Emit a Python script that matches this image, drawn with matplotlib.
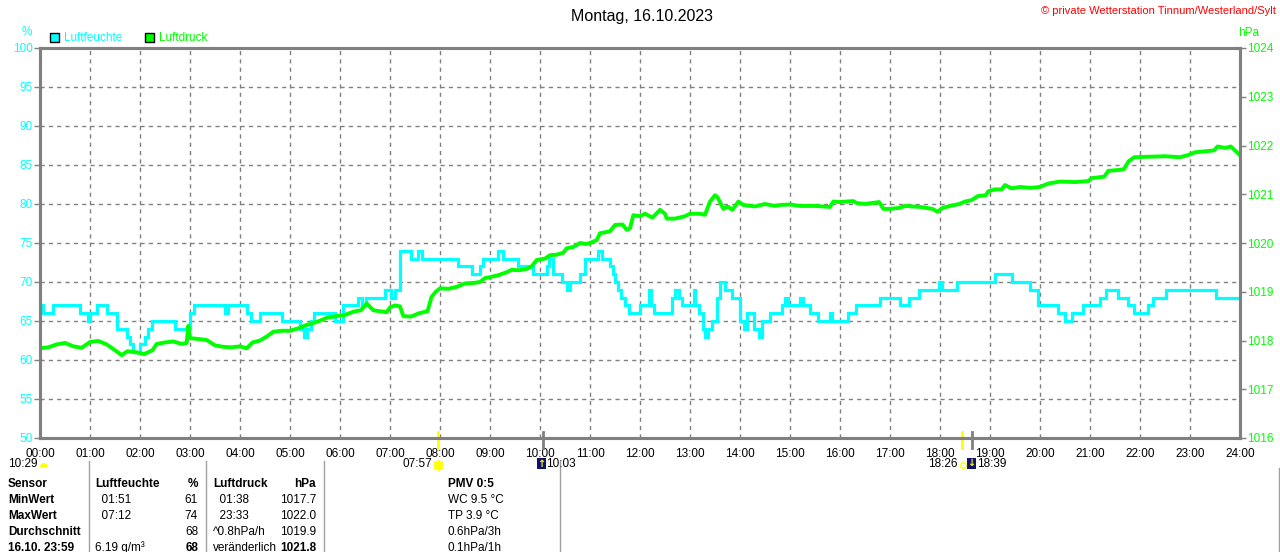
import matplotlib
matplotlib.use("Agg")
import matplotlib.pyplot as plt
from matplotlib.patches import Rectangle, Wedge

plt.rcParams['font.family'] = ['Liberation Sans Narrow', 'Liberation Sans', 'DejaVu Sans']

# Humidity (step changes): time in hours, value in %
hum_hours = [0.00, 0.06, 0.26, 0.80, 0.96, 1.00, 1.14, 1.34, 1.54, 1.74,
             1.80, 1.86, 2.00, 2.10, 2.16, 2.24, 2.70, 3.00, 3.08, 3.70,
             3.76, 4.14, 4.22, 4.40, 4.84, 5.20, 5.28, 5.34, 5.42, 5.48,
             5.90, 6.06, 6.36, 6.44, 6.52, 6.90, 7.02, 7.10, 7.20, 7.42,
             7.56, 7.64, 8.36, 8.64, 8.80, 8.86, 9.16, 9.26, 9.56, 9.86,
             10.14, 10.18, 10.26, 10.44, 10.54, 10.60, 10.80, 10.90, 11.16, 11.24,
             11.40, 11.46, 11.50, 11.56, 11.62, 11.70, 11.77, 12.00, 12.17, 12.22,
             12.27, 12.63, 12.70, 12.78, 12.83, 13.07, 13.10, 13.17, 13.25, 13.30,
             13.36, 13.43, 13.53, 13.60, 13.70, 13.83, 14.00, 14.07, 14.13, 14.27,
             14.37, 14.43, 14.60, 14.83, 14.90, 14.95, 15.20, 15.25, 15.40, 15.56,
             15.80, 15.84, 16.16, 16.32, 16.79, 17.19, 17.38, 17.58, 17.98, 18.04,
             18.34, 19.10, 19.44, 19.80, 19.96, 20.36, 20.50, 20.63, 20.86, 21.20,
             21.32, 21.56, 21.76, 21.88, 22.16, 22.26, 22.52, 23.51, 24.00]
hum_vals = [67, 66, 67, 66, 65, 66, 67, 66, 64, 63,
            62, 61, 62, 63, 64, 65, 64, 66, 67, 66,
            67, 66, 65, 66, 65, 64, 63, 64, 65, 66,
            65, 67, 68, 67, 68, 69, 68, 69, 74, 73,
            74, 73, 72, 71, 72, 73, 74, 73, 72, 71,
            72, 73, 71, 70, 69, 70, 71, 73, 74, 73,
            72, 71, 70, 69, 68, 67, 66, 67, 69, 67,
            66, 68, 69, 68, 67, 69, 67, 66, 64, 63,
            64, 65, 68, 70, 69, 68, 65, 64, 66, 64,
            63, 65, 66, 67, 68, 67, 68, 67, 66, 65,
            66, 65, 66, 67, 68, 67, 68, 69, 70, 69,
            70, 71, 70, 69, 67, 66, 65, 66, 67, 68,
            69, 68, 67, 66, 67, 68, 69, 68, 68]

# Air pressure: time in minutes, value in hPa
press_min = [0, 10, 20, 30, 40, 50, 60, 70, 80, 90,
             98, 105, 115, 125, 135, 140, 150, 160, 170, 176,
             178, 180, 190, 200, 210, 220, 230, 240, 248, 255,
             264, 272, 280, 290, 300, 310, 320, 328, 335, 345,
             355, 365, 376, 385, 392, 400, 408, 416, 420, 426,
             432, 436, 445, 455, 465, 470, 475, 480, 490, 500,
             510, 520, 528, 534, 540, 550, 560, 566, 575, 584,
             590, 596, 606, 612, 620, 628, 632, 640, 648, 655,
             660, 668, 672, 684, 690, 699, 704, 708, 712, 720,
             726, 735, 744, 750, 752, 762, 774, 780, 792, 798,
             804, 810, 813, 820, 825, 831, 838, 844, 858, 870,
             882, 888, 900, 912, 930, 948, 952, 960, 976, 980,
             990, 1007, 1012, 1020, 1031, 1038, 1056, 1071, 1077, 1083,
             1092, 1103, 1110, 1118, 1125, 1135, 1138, 1146, 1154, 1158,
             1166, 1176, 1188, 1200, 1210, 1224, 1242, 1258, 1262, 1277,
             1282, 1296, 1301, 1306, 1313, 1332, 1350, 1368, 1377, 1386,
             1398, 1409, 1413, 1422, 1429, 1434, 1440]
press_hpa = [1017.84, 1017.86, 1017.92, 1017.95, 1017.88, 1017.85, 1017.97, 1017.99, 1017.92, 1017.80,
             1017.70, 1017.78, 1017.76, 1017.72, 1017.80, 1017.93, 1017.96, 1017.98, 1017.93, 1017.95,
             1018.30, 1018.05, 1018.03, 1018.01, 1017.90, 1017.87, 1017.86, 1017.88, 1017.84, 1017.96,
             1018.00, 1018.08, 1018.18, 1018.20, 1018.20, 1018.25, 1018.32, 1018.36, 1018.40, 1018.47,
             1018.50, 1018.52, 1018.59, 1018.62, 1018.76, 1018.62, 1018.60, 1018.58, 1018.68, 1018.72,
             1018.70, 1018.50, 1018.49, 1018.56, 1018.60, 1018.90, 1019.00, 1019.07, 1019.06, 1019.10,
             1019.17, 1019.18, 1019.20, 1019.28, 1019.30, 1019.34, 1019.40, 1019.45, 1019.44, 1019.47,
             1019.52, 1019.65, 1019.68, 1019.75, 1019.76, 1019.80, 1019.89, 1019.92, 1020.00, 1019.98,
             1020.00, 1020.06, 1020.20, 1020.24, 1020.37, 1020.38, 1020.27, 1020.30, 1020.57, 1020.55,
             1020.60, 1020.52, 1020.68, 1020.60, 1020.50, 1020.50, 1020.55, 1020.60, 1020.60, 1020.58,
             1020.85, 1020.98, 1020.94, 1020.70, 1020.75, 1020.68, 1020.85, 1020.78, 1020.75, 1020.80,
             1020.76, 1020.78, 1020.79, 1020.76, 1020.76, 1020.74, 1020.85, 1020.84, 1020.86, 1020.82,
             1020.80, 1020.84, 1020.70, 1020.70, 1020.72, 1020.76, 1020.74, 1020.70, 1020.64, 1020.72,
             1020.76, 1020.80, 1020.85, 1020.88, 1020.96, 1020.98, 1021.06, 1021.10, 1021.10, 1021.19,
             1021.12, 1021.15, 1021.13, 1021.15, 1021.22, 1021.26, 1021.25, 1021.27, 1021.33, 1021.36,
             1021.48, 1021.50, 1021.52, 1021.67, 1021.76, 1021.77, 1021.78, 1021.76, 1021.80, 1021.86,
             1021.88, 1021.90, 1021.98, 1021.95, 1021.98, 1021.90, 1021.80]

x_labels = [f"{h:02d}:00" for h in range(25)]
hum_ticks = list(range(50, 101, 5))
press_ticks = list(range(1016, 1025))

# sun / moon events (hours)
sun_events = [7 + 57 / 60, 18 + 26 / 60]
moon_events = [10 + 3 / 60, 18 + 39 / 60]

CYAN = '#00ffff'
GREEN = '#00ff00'
GRAY = '#808080'

W, H = 1280, 552
fig = plt.figure(figsize=(W / 100, H / 100), dpi=100)
ax = fig.add_axes([40 / W, 1 - 438 / H, 1200 / W, 390 / H])
ax2 = ax.twinx()

ax.set_xlim(0, 24)
ax.set_ylim(50, 100)
ax2.set_ylim(1016, 1024)

ax.step(hum_hours, hum_vals, where='post', color=CYAN, lw=2.3, solid_joinstyle='miter')
ax2.plot([m / 60 for m in press_min], press_hpa, color=GREEN, lw=2.8)

ax.set_xticks(range(25))
ax.set_xticklabels(x_labels)
ax.set_yticks(hum_ticks)
ax2.set_yticks(press_ticks)
ax.grid(True, color=GRAY, linestyle=(0, (3, 3)), linewidth=1)

for a in (ax, ax2):
    for s in a.spines.values():
        s.set_color(GRAY)
        s.set_linewidth(2.2)

ax.tick_params(axis='x', length=0, pad=7, labelsize=8.5, labelcolor='black')
ax.tick_params(axis='y', length=4, width=1, color=GRAY, pad=1, labelsize=8.5, labelcolor=CYAN)
ax2.tick_params(axis='y', length=4, width=1, color=GRAY, pad=1, labelsize=8.5, labelcolor=GREEN)

# sun / moon markers on the time axis
xt = ax.get_xaxis_transform()
for t in sun_events:
    ax.plot([t, t], [-0.025, 0.016], transform=xt, color='#ffff00', lw=2, clip_on=False, zorder=5)
for t in moon_events:
    ax.plot([t, t], [-0.025, 0.016], transform=xt, color=GRAY, lw=2, clip_on=False, zorder=5)

# overlay in pixel coordinates for header, legend and table
ov = fig.add_axes([0, 0, 1, 1], zorder=10)
ov.set_xlim(0, W)
ov.set_ylim(H, 0)
ov.axis('off')

fs = 8.5
ov.text(642, 16, 'Montag, 16.10.2023', ha='center', va='center', fontsize=11.5)
ov.text(1276, 11, '\u00a9 private Wetterstation Tinnum/Westerland/Sylt', ha='right', va='center',
        fontsize=8, color='red')
ov.text(27, 32, '%', ha='center', va='center', fontsize=fs, color=CYAN)
ov.text(1249, 33, 'hPa', ha='center', va='center', fontsize=fs, color=GREEN)

ov.add_patch(Rectangle((50, 33), 9, 9, facecolor=CYAN, edgecolor='black', lw=1))
ov.text(64, 38, 'Luftfeuchte', va='center', fontsize=fs, color=CYAN)
ov.add_patch(Rectangle((145, 33), 9, 9, facecolor=GREEN, edgecolor='black', lw=1))
ov.text(159, 38, 'Luftdruck', va='center', fontsize=fs, color=GREEN)

# sun / moon times row
ov.text(38, 464, '10:29', ha='right', va='center', fontsize=fs)
ov.add_patch(Wedge((44, 467), 4, 180, 360, facecolor='#ffff00', edgecolor='none'))
ov.text(432, 464, '07:57', ha='right', va='center', fontsize=fs)
ov.plot([438], [465], marker=(8, 2, 0), ms=8, color='#ffff00', mew=1)
ov.plot([438], [465], marker='o', ms=5, color='#ffff00', mec='#ffff00')
ov.add_patch(Rectangle((537, 458), 9, 11, facecolor='#101070', edgecolor='none'))
ov.text(541.5, 464, '\u2191', ha='center', va='center', fontsize=7, color='#ffff00',
        family='DejaVu Sans', fontweight='bold')
ov.text(546, 464, '10:03', ha='left', va='center', fontsize=fs)
ov.text(958, 464, '18:26', ha='right', va='center', fontsize=fs)
ov.plot([963], [465], marker='o', ms=4, mfc='none', mec='#ffff00', mew=1)
ov.add_patch(Rectangle((967, 458), 9, 11, facecolor='#101070', edgecolor='none'))
ov.text(971.5, 463, '\u2193', ha='center', va='center', fontsize=7, color='#ffff00',
        family='DejaVu Sans', fontweight='bold')
ov.text(977, 464, '18:39', ha='left', va='center', fontsize=fs)

# table
rows_y = [484, 500, 516, 532, 548]
col0 = ['Sensor', 'MinWert', 'MaxWert', 'Durchschnitt', '16.10. 23:59']
col1 = ['Luftfeuchte', '  01:51', '  07:12', '', '6.19 g/m\u00b3']
col2 = ['%', '61', '74', '68', '68']
col3 = ['Luftdruck', '  01:38', '  23:33', '^0.8hPa/h', 'ver\u00e4nderlich']
col4 = ['hPa', '1017.7', '1022.0', '1019.9', '1021.8']
col5 = ['PMV 0:5', 'WC 9.5 \u00b0C', 'TP 3.9 \u00b0C', '0.6hPa/3h', '0.1hPa/1h']

for i, y in enumerate(rows_y):
    head = i == 0
    last = i == len(rows_y) - 1
    ov.text(8, y, col0[i], va='center', fontsize=fs, fontweight='bold')
    ov.text(95, y, col1[i], va='center', fontsize=fs, fontweight='bold' if head else 'normal')
    ov.text(198, y, col2[i], ha='right', va='center', fontsize=fs,
            fontweight='bold' if (head or last) else 'normal')
    ov.text(213, y, col3[i], va='center', fontsize=fs, fontweight='bold' if head else 'normal')
    ov.text(316, y, col4[i], ha='right', va='center', fontsize=fs,
            fontweight='bold' if (head or last) else 'normal')
    ov.text(448, y, col5[i], va='center', fontsize=fs, fontweight='bold' if head else 'normal')

for xs in [89, 206, 324, 560]:
    ov.plot([xs, xs], [461, 552], color='#a0a0a0', lw=1)
ov.plot([1279, 1279], [468, 552], color='#a0a0a0', lw=1)

fig.savefig('out.png', dpi=100)
